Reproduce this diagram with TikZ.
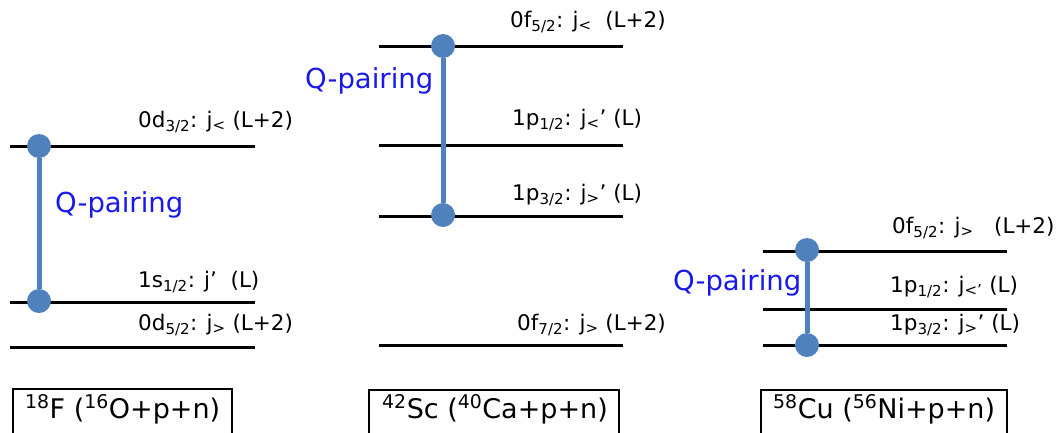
\documentclass[tikz,border=0pt]{standalone}
\usepackage{fontspec}
\setmainfont{DejaVu Sans}
\definecolor{dotblue}{RGB}{79,129,189}
\definecolor{qblue}{RGB}{25,25,235}
\newcommand{\sbs}[1]{\textsubscript{#1}}
\newcommand{\sps}[1]{\textsuperscript{#1}}
\begin{document}
\begin{tikzpicture}[x=1pt,y=-1pt,
  level/.style={line width=3pt},
  lab/.style={anchor=base west, inner sep=0pt, font=\fontsize{21.5}{24}\selectfont},
  qlab/.style={anchor=base west, inner sep=0pt, text=qblue, font=\fontsize{27.5}{30}\selectfont},
  dot/.style={circle, fill=dotblue, minimum size=24pt, inner sep=0pt},
  pair/.style={dotblue, line width=5pt},
  boxframe/.style={draw, line width=1.2pt},
  boxlab/.style={anchor=base west, inner sep=0pt, font=\fontsize{27}{30}\selectfont}]
\useasboundingbox (0,0) rectangle (1061,432);
\clip (0,0) rectangle (1061,432);
% ---------- panel 1 ----------
\coordinate (a1l) at (10,146); \coordinate (a1r) at (255,146);
\coordinate (a2l) at (10,302); \coordinate (a2r) at (255,302);
\coordinate (a3l) at (10,347); \coordinate (a3r) at (255,347);
\draw[level] (a1l) -- (a1r);
\draw[level] (a2l) -- (a2r);
\draw[level] (a3l) -- (a3r);
\node[dot] (ad1) at (39,146) {};
\node[dot] (ad2) at (39,301) {};
\draw[pair] (ad1) -- (ad2);
\node[lab] (al1) at (138,127) {0d\sbs{3/2}: j\sbs{<} (L+2)};
\node[lab] (al2) at (138,287) {1s\sbs{1/2}: j’\ \ (L)};
\node[lab] (al3) at (138,330) {0d\sbs{5/2}: j\sbs{>} (L+2)};
\node[qlab] (aq) at (55,212) {Q-pairing};
% ---------- panel 2 ----------
\coordinate (b1l) at (379,46); \coordinate (b1r) at (623,46);
\coordinate (b2l) at (379,145); \coordinate (b2r) at (623,145);
\coordinate (b3l) at (379,216); \coordinate (b3r) at (623,216);
\coordinate (b4l) at (379,345); \coordinate (b4r) at (623,345);
\draw[level] (b1l) -- (b1r);
\draw[level] (b2l) -- (b2r);
\draw[level] (b3l) -- (b3r);
\draw[level] (b4l) -- (b4r);
\node[dot] (bd1) at (443,46) {};
\node[dot] (bd2) at (443,215) {};
\draw[pair] (bd1) -- (bd2);
\node[lab] (bl1) at (510,27) {0f\sbs{5/2}: j\sbs{<} \ (L+2)};
\node[lab] (bl2) at (512,125) {1p\sbs{1/2}: j\sbs{<}’ (L)};
\node[lab] (bl3) at (512,200) {1p\sbs{3/2}: j\sbs{>}’ (L)};
\node[lab] (bl4) at (517,330) {0f\sbs{7/2}: j\sbs{>} (L+2)};
\node[qlab] (bq) at (305,88) {Q-pairing};
% ---------- panel 3 ----------
\coordinate (c1l) at (763,251); \coordinate (c1r) at (1007,251);
\coordinate (c2l) at (763,309); \coordinate (c2r) at (1007,309);
\coordinate (c3l) at (763,345); \coordinate (c3r) at (1007,345);
\draw[level] (c1l) -- (c1r);
\draw[level] (c2l) -- (c2r);
\draw[level] (c3l) -- (c3r);
\node[dot] (cd1) at (807,250) {};
\node[dot] (cd2) at (807,345) {};
\draw[pair] (cd1) -- (cd2);
\node[lab] (cl1) at (892,233) {0f\sbs{5/2}: j\sbs{>} \ \ (L+2)};
\node[lab] (cl2) at (890,292) {1p\sbs{1/2}: j\sbs{<’} (L)};
\node[lab] (cl3) at (890,330) {1p\sbs{3/2}: j\sbs{>}’ (L)};
\node[qlab] (cq) at (673,290) {Q-pairing};
% ---------- boxes ----------
\draw[boxframe] (13,389) rectangle (232,460);
\draw[boxframe] (369,390) rectangle (619,460);
\draw[boxframe] (761,390) rectangle (1007,460);
\node[boxlab] (n1) at (25,418) {\sps{18}F (\sps{16}O+p+n)};
\node[boxlab] (n2) at (382,418) {\sps{42}Sc (\sps{40}Ca+p+n)};
\node[boxlab] (n3) at (773,418) {\sps{58}Cu (\sps{56}Ni+p+n)};
\end{tikzpicture}
\end{document}
